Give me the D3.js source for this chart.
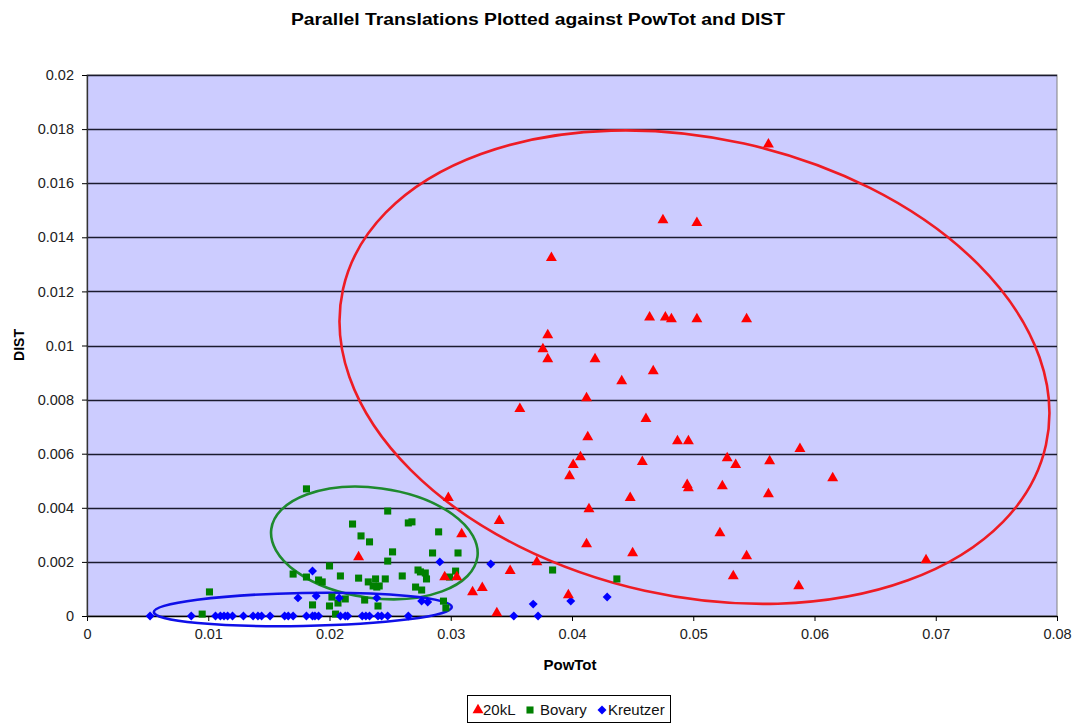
<!DOCTYPE html>
<html><head><meta charset="utf-8">
<script src="https://cdn.jsdelivr.net/npm/d3@7"></script>
<style>body{margin:0;background:#fff}svg{display:block}text{font-family:"Liberation Sans",Arial,sans-serif}</style>
</head><body>
<svg id="c" width="1076" height="725"></svg>
<script>
const xTicks=[0,0.01,0.02,0.03,0.04,0.05,0.06,0.07,0.08];
const yTicks=[0,0.002,0.004,0.006,0.008,0.01,0.012,0.014,0.016,0.018,0.02];
const xTickLabels=["0","0.01","0.02","0.03","0.04","0.05","0.06","0.07","0.08"];
const yTickLabels=["0","0.002","0.004","0.006","0.008","0.01","0.012","0.014","0.016","0.018","0.02"];
const seriesNames=["20kL","Bovary","Kreutzer"];
const kL20=[[0.0562,0.0174],[0.0475,0.0146],[0.0503,0.0145],[0.0383,0.0132],[0.0380,0.01035],[0.0376,0.00983],[0.0380,0.00946],
[0.0464,0.0110],[0.0477,0.0110],[0.0482,0.01094],[0.0503,0.01094],[0.0544,0.01094],[0.0419,0.00946],[0.0441,0.00865],[0.0467,0.00902],
[0.0357,0.00762],[0.0412,0.00802],[0.0461,0.00725],[0.0413,0.00658],[0.0487,0.00643],[0.0496,0.00643],[0.0407,0.00584],[0.0401,0.00555],
[0.0398,0.00514],[0.0458,0.00566],[0.0528,0.0058],[0.0535,0.00555],[0.0563,0.00569],[0.0588,0.00614],[0.0615,0.00506],[0.0495,0.00481],
[0.0496,0.00469],[0.0524,0.00477],[0.0562,0.00447],[0.0298,0.00433],[0.0448,0.00433],[0.0414,0.00392],[0.0340,0.00348],[0.0309,0.00299],
[0.0522,0.00303],[0.0412,0.00262],[0.0450,0.00229],[0.0544,0.00218],[0.0224,0.00214],[0.0371,0.00196],[0.0692,0.00203],[0.0349,0.00163],
[0.0295,0.0014],[0.0305,0.0014],[0.0533,0.00144],[0.0326,0.0010],[0.0318,0.00085],[0.0587,0.00107],[0.0397,0.00074],[0.0338,0.00007]];
const bovary=[[0.0181,0.0047],[0.0219,0.0034],[0.0226,0.00296],[0.0233,0.00274],[0.0200,0.00185],[0.0170,0.00155],[0.0181,0.00144],
[0.0191,0.00133],[0.0194,0.00126],[0.0209,0.00148],[0.0224,0.0014],[0.0232,0.00126],[0.0238,0.00137],[0.0239,0.00107],[0.0186,0.00041],
[0.0200,0.00037],[0.0202,0.0007],[0.0207,0.00048],[0.0213,0.00063],[0.0229,0.00059],[0.0240,0.00037],[0.0205,0.00007],[0.0101,0.00089],
[0.0095,0.00007],[0.0248,0.00388],[0.0265,0.00344],[0.0268,0.00348],[0.0290,0.00311],[0.0252,0.00237],[0.0285,0.00233],[0.0306,0.00233],
[0.0248,0.00203],[0.0273,0.0017],[0.0275,0.00163],[0.0279,0.00159],[0.0280,0.00137],[0.0260,0.00148],[0.0304,0.00166],[0.0299,0.00144],
[0.0246,0.00137],[0.0241,0.00111],[0.0236,0.00111],[0.0271,0.00107],[0.0276,0.00096],[0.0294,0.00055],[0.0296,0.0003],[0.0384,0.0017],
[0.0437,0.00137]];
const kreutzer=[[0.0052,0],[0.0086,0],[0.0106,0],[0.0110,0],[0.0113,0],[0.0116,0],[0.0120,0],[0.0129,0],[0.0137,0],[0.0141,0],[0.0144,0],
[0.0151,0],[0.0163,0],[0.0166,0],[0.0170,0],[0.0181,0],[0.0186,0],[0.0188,0],[0.0191,0],[0.0209,0],[0.0213,0],[0.0215,0],[0.0227,0],
[0.0230,0],[0.0233,0],[0.0240,0],[0.0243,0],[0.0248,0],[0.0265,0],[0.0352,0],[0.0372,0],
[0.0186,0.00166],[0.0174,0.00067],[0.0189,0.00074],[0.0208,0.00067],[0.0239,0.00067],[0.0291,0.0020],[0.0333,0.00192],[0.0276,0.00055],
[0.0281,0.00052],[0.0368,0.00044],[0.0399,0.00055],[0.0429,0.0007]];
// annotation ellipses: centre in data units
const ellipseCentres=[[0.0501,0.0092],[0.0237,0.0027],[0.0178,0.00024]];
const ellipseColors=["#ee1c24","#1e8a2e","#1010e8"];

const svg=d3.select("#c");
const L=87,R=1057,T=75,B=616;
const x=d3.scaleLinear().domain([0,0.08]).range([L,R]);
const y=d3.scaleLinear().domain([0,0.02]).range([B,T]);

svg.append("rect").attr("x",L).attr("y",T).attr("width",R-L).attr("height",B-T).attr("fill","#ccccff").attr("stroke","#808080").attr("stroke-width",1);
svg.append("g").selectAll("line").data(yTicks.slice(1)).join("line")
 .attr("x1",L).attr("x2",R).attr("y1",d=>Math.round(y(d))+0.5).attr("y2",d=>Math.round(y(d))+0.5)
 .attr("stroke","#1a1a2e").attr("stroke-width",1.3);

const xAxis=d3.axisBottom(x).tickValues(xTicks).tickFormat((d,i)=>xTickLabels[i]).tickSize(5).tickSizeOuter(0);
const gx=svg.append("g").attr("transform",`translate(0,${B})`).call(xAxis);
gx.select(".domain").attr("stroke","#000").attr("stroke-width",1.3);
gx.selectAll(".tick line").attr("stroke","#000");
gx.selectAll("text").attr("font-size",14.5).attr("fill","#222").attr("dy","1.0em").style("font-family","'Liberation Sans',Arial");
const yAxis=d3.axisLeft(y).tickValues(yTicks).tickFormat((d,i)=>yTickLabels[i]).tickSize(5).tickSizeOuter(0);
const gy=svg.append("g").attr("transform",`translate(${L},0)`).call(yAxis);
gy.select(".domain").attr("stroke","#333").attr("stroke-width",1.3);
gy.selectAll(".tick line").attr("stroke","#000");
gy.selectAll("text").attr("font-size",14.5).attr("fill","#222").attr("x",-13).style("font-family","'Liberation Sans',Arial");

const ellipseShapes=[{rx:360,ry:229,rot:12.5},{rx:104,ry:55,rot:7.7},{rx:149,ry:16.5,rot:-1}];
svg.append("g").selectAll("ellipse").data(ellipseCentres).join("ellipse")
 .attr("cx",0).attr("cy",0)
 .attr("rx",(d,i)=>ellipseShapes[i].rx).attr("ry",(d,i)=>ellipseShapes[i].ry)
 .attr("transform",(d,i)=>`translate(${x(d[0])},${y(d[1])}) rotate(${ellipseShapes[i].rot})`)
 .attr("fill","none").attr("stroke",(d,i)=>ellipseColors[i]).attr("stroke-width",2.6);

const diamondType={draw(ctx,size){const r=Math.sqrt(size/2);ctx.moveTo(0,-r);ctx.lineTo(r,0);ctx.lineTo(0,r);ctx.lineTo(-r,0);ctx.closePath();}};
const sym={tri:d3.symbol().type(d3.symbolTriangle).size(52),sq:d3.symbol().type(d3.symbolSquare).size(50),dia:d3.symbol().type(diamondType).size(40)};
function plot(data,path,color,dy){
 svg.append("g").selectAll("path").data(data).join("path")
  .attr("d",path).attr("transform",d=>`translate(${x(d[0])},${y(d[1])+(dy||0)})`).attr("fill",color);
}
plot(bovary,sym.sq(),"#008000");
plot(kreutzer,sym.dia(),"#0000ff");
plot(kL20,sym.tri(),"#ff0000",-1);

svg.append("text").attr("x",538).attr("y",25).attr("text-anchor","middle").attr("font-size",16).attr("font-weight","bold")
 .attr("textLength",494).attr("lengthAdjust","spacingAndGlyphs").text("Parallel Translations Plotted against PowTot and DIST");
svg.append("text").attr("x",570).attr("y",670).attr("text-anchor","middle").attr("font-size",15).attr("font-weight","bold").text("PowTot");
svg.append("text").attr("transform","translate(24,345) rotate(-90)").attr("text-anchor","middle").attr("font-size",14).attr("font-weight","bold").text("DIST");

const lg=svg.append("g");
lg.append("rect").attr("x",467.5).attr("y",695.5).attr("width",203).attr("height",27).attr("fill","#fff").attr("stroke","#000");
const legSyms=[sym.tri(),sym.sq(),sym.dia()];
const legCols=["#ff0000","#008000","#0000ff"];
const legX=[478,530,602];
const legTX=[483,540,608];
seriesNames.forEach((n,i)=>{
 lg.append("path").attr("d",legSyms[i]).attr("transform",`translate(${legX[i]},${710})`).attr("fill",legCols[i]);
 lg.append("text").attr("x",legTX[i]).attr("y",715).attr("font-size",15).attr("fill","#111").text(n);
});
</script>
</body></html>
